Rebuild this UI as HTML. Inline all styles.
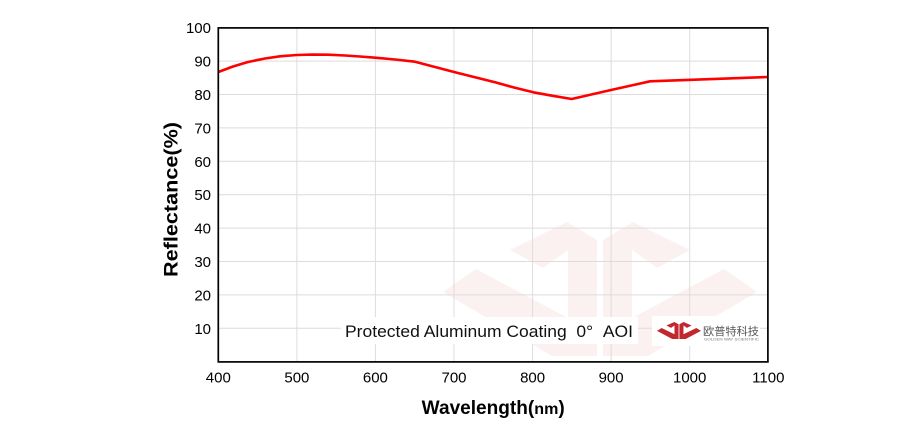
<!DOCTYPE html>
<html><head><meta charset="utf-8"><style>
html,body{margin:0;padding:0;background:#fff;}
svg{display:block;}
</style></head><body>
<svg width="924" height="440" viewBox="0 0 924 440" xmlns="http://www.w3.org/2000/svg">
<rect width="924" height="440" fill="#fff"/>
<!-- watermark -->
<g fill="#fcf1f1">
<polygon points="443,292 476,269 568,318 568,356 552,356"/>
<polygon points="510,250 567,222 597,240 597,356 568,356 568,250 543,268"/>
<polygon points="690,250 633,222 603,240 603,356 632,356 632,250 657,268"/>
<polygon points="757,292 724,269 632,318 632,356 648,356"/>
</g>
<!-- grid -->
<g stroke="#dcdcdc" stroke-width="1">
<line x1="296.9" y1="28" x2="296.9" y2="362"/>
<line x1="375.4" y1="28" x2="375.4" y2="362"/>
<line x1="454" y1="28" x2="454" y2="362"/>
<line x1="532.6" y1="28" x2="532.6" y2="362"/>
<line x1="611.1" y1="28" x2="611.1" y2="362"/>
<line x1="689.7" y1="28" x2="689.7" y2="362"/>
<line x1="218" y1="61.1" x2="768" y2="61.1"/>
<line x1="218" y1="94.5" x2="768" y2="94.5"/>
<line x1="218" y1="127.9" x2="768" y2="127.9"/>
<line x1="218" y1="161.3" x2="768" y2="161.3"/>
<line x1="218" y1="194.7" x2="768" y2="194.7"/>
<line x1="218" y1="228.1" x2="768" y2="228.1"/>
<line x1="218" y1="261.5" x2="768" y2="261.5"/>
<line x1="218" y1="294.9" x2="768" y2="294.9"/>
<line x1="218" y1="328.3" x2="768" y2="328.3"/>
</g>
<!-- white boxes -->
<rect x="341" y="317" width="297" height="27" fill="#fff"/>
<rect x="652" y="316" width="108" height="30" fill="#fff"/>
<text x="345" y="337" font-family="Liberation Sans, sans-serif" font-size="17" fill="#111" textLength="288" lengthAdjust="spacingAndGlyphs">Protected Aluminum Coating&#160;&#160;0°&#160;&#160;AOI</text>
<!-- small logo -->
<g fill="#c1272d" transform="translate(657,322) scale(0.14,0.127) translate(-443,-222)">
<polygon points="443,292 476,269 568,318 568,356 552,356"/>
<polygon points="510,250 567,222 597,240 597,356 568,356 568,250 543,268"/>
<polygon points="690,250 633,222 603,240 603,356 632,356 632,250 657,268"/>
<polygon points="757,292 724,269 632,318 632,356 648,356"/>
</g>
<text x="703" y="335" font-family="Liberation Sans, 'Noto Sans CJK SC', sans-serif" font-size="11" fill="#555" textLength="56" lengthAdjust="spacingAndGlyphs">欧普特科技</text>
<text x="704" y="340.5" font-family="Liberation Sans, sans-serif" font-size="4" fill="#777" textLength="55" lengthAdjust="spacingAndGlyphs">GOLDEN WAY SCIENTIFIC</text>
<!-- curve -->
<polyline fill="none" stroke="#ff0000" stroke-width="2.6" stroke-linejoin="round" points="218.3,72 233,66.5 248,62 265,58.5 280,56.3 296.7,55 312,54.6 328,54.7 345,55.5 360,56.5 375,57.7 395,59.5 415,61.7 435,67 455,72.3 475,77.3 495,82.3 514,87.5 533.3,92.3 552,95.7 571.7,99 611,90 650,81.3 768.3,77"/>
<!-- frame -->
<rect x="218.3" y="27.9" width="549.6" height="334" fill="none" stroke="#000" stroke-width="1.7"/>
<!-- y labels -->
<g font-family="Liberation Sans, sans-serif" font-size="15" fill="#000" text-anchor="end">
<text x="211" y="33.2">100</text>
<text x="211" y="66.6">90</text>
<text x="211" y="100">80</text>
<text x="211" y="133.4">70</text>
<text x="211" y="166.8">60</text>
<text x="211" y="200.2">50</text>
<text x="211" y="233.6">40</text>
<text x="211" y="267">30</text>
<text x="211" y="300.4">20</text>
<text x="211" y="333.8">10</text>
</g>
<!-- x labels -->
<g font-family="Liberation Sans, sans-serif" font-size="15" fill="#000" text-anchor="middle">
<text x="218.3" y="382.5">400</text>
<text x="296.9" y="382.5">500</text>
<text x="375.4" y="382.5">600</text>
<text x="454" y="382.5">700</text>
<text x="532.6" y="382.5">800</text>
<text x="611.1" y="382.5">900</text>
<text x="689.7" y="382.5">1000</text>
<text x="768.3" y="382.5">1100</text>
</g>
<text x="421.7" y="414" font-family="Liberation Sans, sans-serif" font-size="19" font-weight="bold" fill="#000" textLength="143" lengthAdjust="spacingAndGlyphs">Wavelength(<tspan font-size="16">nm</tspan>)</text>
<text transform="translate(177.5,277) rotate(-90)" x="0" y="0" font-family="Liberation Sans, sans-serif" font-size="19" font-weight="bold" fill="#000" textLength="155" lengthAdjust="spacingAndGlyphs">Reflectance(%)</text>
</svg>
</body></html>
